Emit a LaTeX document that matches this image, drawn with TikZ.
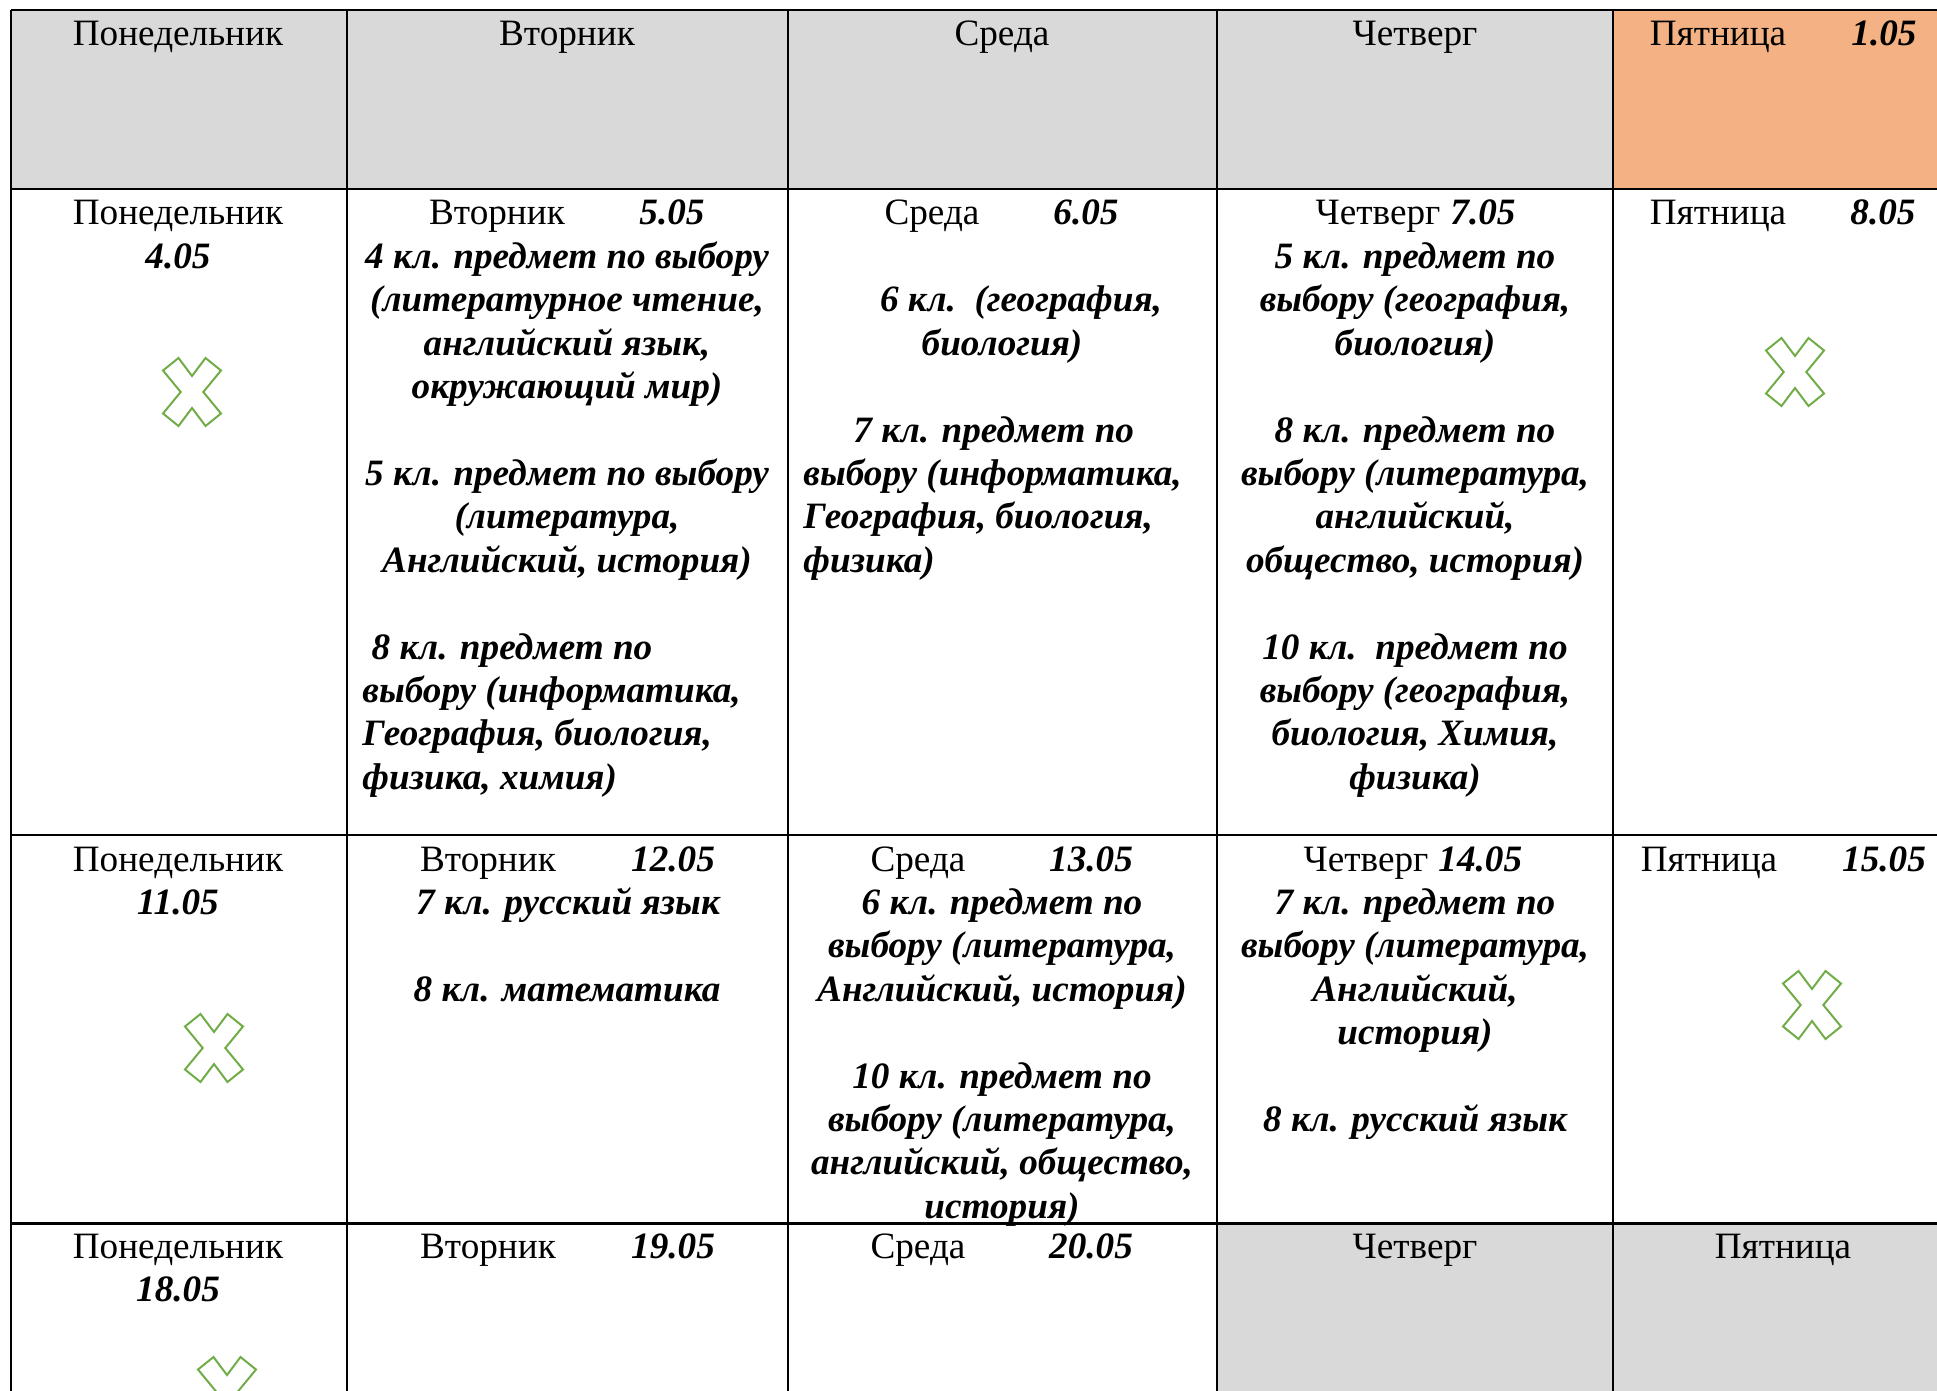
\documentclass[tikz,border=0pt]{standalone}
\usepackage{fontspec}
\setmainfont{Liberation Serif}
\usepackage{tikz}

\definecolor{grisclair}{HTML}{D9D9D9}
\definecolor{orangeclair}{HTML}{F4B183}
\definecolor{vertcroix}{HTML}{70AD47}

\newcommand{\jourfont}{\fontsize{18.6}{21.7}\selectfont}
\newcommand{\grasfont}{\fontsize{18.6}{21.7}\selectfont\bfseries\itshape}

% stack of lines, one node per line
\newcommand{\bloc}[5]{%
  \foreach \texte [count=\i from 0] in {#5} {\node[#2] (#1-\i) at (#3, #4+43.4*\i) {\texte};}}

\begin{document}
\begin{tikzpicture}[x=0.5pt,y=-0.5pt]
      \tikzstyle{jour}=[anchor=base, inner sep=0pt, yshift=-1pt, font=\jourfont]
      \tikzstyle{date}=[anchor=base, inner sep=0pt, yshift=-1pt, font=\grasfont]
      \tikzstyle{suite}=[anchor=base west, inner sep=0pt, font=\grasfont]
      \tikzstyle{matiere}=[anchor=base, inner sep=0pt, yshift=-1pt, font=\grasfont]
      \tikzstyle{matiereg}=[anchor=base west, inner sep=0pt, yshift=-1pt, font=\grasfont]
      \tikzstyle{trait}=[line width=1.2pt]
      \tikzstyle{traitv}=[line width=1pt]
      \tikzset{croix/.pic={\draw[vertcroix, line width=1pt, line join=miter]
        (-13.5,-34) -- (0,-16) -- (13.5,-34) -- (29,-21.5) -- (11.3,0) -- (29,21.5)
        -- (13.5,34) -- (0,16) -- (-13.5,34) -- (-29,21.5) -- (-11.3,0) -- (-29,-21.5) -- cycle;}}

      \useasboundingbox (0,0) rectangle (1937,1391);
      \clip (0,0) rectangle (1937,1391);

      % fonds
      \fill[grisclair] (11,10) rectangle (1613,189);
      \fill[orangeclair] (1613,10) rectangle (1937,189);
      \fill[grisclair] (1217,1223) rectangle (1937,1391);

      % grille
      \draw[trait] (11,10) -- (1937,10);
      \draw[trait] (11,189) -- (1937,189);
      \draw[trait] (11,835) -- (1937,835);
      \draw[trait, line width=1.5pt] (11,1223) -- (1937,1223);
      \foreach \x in {11,347,788,1217,1613}
        \draw[traitv] (\x,10) -- (\x,1391);

      % en-tete
      \node[jour] (h1) at (178,44) {Понедельник};
      \node[jour] (h2) at (567,44) {Вторник};
      \node[jour] (h3) at (1002,44) {Среда};
      \node[jour] (h4) at (1415,44) {Четверг};
      \node[jour] (h5) at (1718,44) {Пятница};
      \node[date] (d1) at (1884,44) {1.05};

      % semaine 1
      \node[jour] (l1) at (178,223) {Понедельник};
      \node[date] (d4) at (178,266.4) {4.05};
      \pic at (192,392) {croix};

      \node[jour] (m1) at (497,223) {Вторник};
      \node[date] (d5) at (672,223) {5.05};
      \bloc{m1a}{matiere}{567}{266.4}{{4 кл. предмет по выбору},{(литературное чтение,},{английский язык,},{окружающий мир)}}
      \bloc{m1b}{matiere}{567}{483.4}{{5 кл. предмет по выбору},{(литература,},{Английский, история)}}
      \bloc{m1c}{matiereg}{362}{657}{{\ 8 кл. предмет по},{выбору (информатика,},{География, биология,},{физика, химия)}}

      \node[jour] (w1) at (932,223) {Среда};
      \node[date] (d6) at (1086,223) {6.05};
      \node[matiere] (w1a) at (1021,309.8) {6 кл.\ \ (география,};
      \node[matiere] (w1b) at (1002,353.2) {биология)};
      \node[matiereg] (w1c) at (853,440) {7 кл. предмет по};
      \bloc{w1d}{matiereg}{803}{483.4}{{выбору (информатика,},{География, биология,},{физика)}}

      \node[jour] (j1) at (1378,223) {Четверг};
      \node[suite] (d7) at (j1.base east) {\ 7.05};
      \bloc{j1a}{matiere}{1415}{266.4}{{5 кл. предмет по},{выбору (география,},{биология)}}
      \bloc{j1b}{matiere}{1415}{440}{{8 кл. предмет по},{выбору (литература,},{английский,},{общество, история)}}
      \bloc{j1c}{matiere}{1415}{657}{{10 кл.\ \ предмет по},{выбору (география,},{биология, Химия,},{физика)}}

      \node[jour] (v1) at (1718,223) {Пятница};
      \node[date] (d8) at (1883,223) {8.05};
      \pic at (1795,372) {croix};

      % semaine 2
      \node[jour] (l2) at (178,869) {Понедельник};
      \node[date] (d11) at (178,912.4) {11.05};
      \pic at (214,1048) {croix};

      \node[jour] (m2) at (488,869) {Вторник};
      \node[date] (d12) at (673,869) {12.05};
      \node[matiere] (m2a) at (568,912.4) {7 кл. русский язык};
      \node[matiere] (m2b) at (567,999.2) {8 кл. математика};

      \node[jour] (w2) at (918,869) {Среда};
      \node[date] (d13) at (1091,869) {13.05};
      \bloc{w2a}{matiere}{1002}{912.4}{{6 кл. предмет по},{выбору (литература,},{Английский, история)}}
      \bloc{w2b}{matiere}{1002}{1086}{{10 кл. предмет по},{выбору (литература,},{английский, общество,},{история)}}

      \node[jour] (j2) at (1366,869) {Четверг};
      \node[suite] (d14) at (j2.base east) {\ 14.05};
      \bloc{j2a}{matiere}{1415}{912.4}{{7 кл. предмет по},{выбору (литература,},{Английский,},{история)}}
      \node[matiere] (j2b) at (1415,1129.4) {8 кл. русский язык};

      \node[jour] (v2) at (1709,869) {Пятница};
      \node[date] (d15) at (1884,869) {15.05};
      \pic at (1812,1005) {croix};

      % semaine 3
      \node[jour] (l3) at (178,1256) {Понедельник};
      \node[date] (d18) at (178,1299.4) {18.05};
      \pic at (227,1391) {croix};

      \node[jour] (m3) at (488,1256) {Вторник};
      \node[date] (d19) at (673,1256) {19.05};

      \node[jour] (w3) at (918,1256) {Среда};
      \node[date] (d20) at (1091,1256) {20.05};

      \node[jour] (j3) at (1415,1256) {Четверг};
      \node[jour] (v3) at (1783,1256) {Пятница};

    \end{tikzpicture}
\end{document}
